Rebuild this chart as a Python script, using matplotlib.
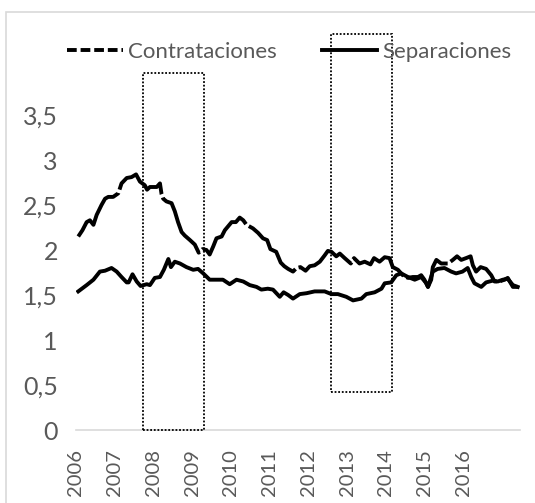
import matplotlib
matplotlib.use("Agg")
import matplotlib.pyplot as plt
from matplotlib.lines import Line2D
from matplotlib.patches import Rectangle

plt.rcParams['font.family'] = ['Lato', 'DejaVu Sans']

# months since Jan 2006
contr_m = [0.7, 2.0, 3.3, 4.3, 5.4, 6.4, 7.9, 9.0, 10.0, 11.5, 13.1, 14.1, 15.7, 17.2, 18.6, 19.8,
           21.3, 22.0, 22.9, 25.0, 26.0, 26.5, 27.0, 28.0, 29.6, 30.6, 31.6, 32.7, 33.7, 35.3, 36.8,
           38.0, 39.2, 40.4, 41.4, 42.5, 43.5, 45.1, 46.1, 48.2, 49.5, 50.7, 51.8, 52.8, 54.8, 56.4,
           57.9, 59.2, 60.2, 62.0, 63.4, 64.5, 65.7, 67.2, 68.3, 69.5, 71.1, 72.4, 73.9, 75.5, 77.0,
           78.0, 79.1, 80.6, 81.7, 83.2, 85.1, 86.1, 87.8, 89.4, 91.2, 92.3, 94.0, 95.6, 97.1, 98.1,
           99.7, 101.2, 102.8, 104.3, 105.9, 106.9, 107.9, 109.0, 110.0, 110.5, 111.6, 113.1, 115.2,
           116.7, 118.0, 119.3, 120.8, 122.2, 122.9, 123.9, 125.3, 127.0, 128.6, 129.6, 131.1, 132.7,
           133.7, 135.3, 136.8]
contr_v = [2.15, 2.22, 2.31, 2.33, 2.28, 2.39, 2.50, 2.57, 2.59, 2.59, 2.63, 2.74, 2.80, 2.81, 2.84, 2.76,
           2.72, 2.67, 2.70, 2.70, 2.74, 2.62, 2.57, 2.54, 2.52, 2.43, 2.31, 2.20, 2.16, 2.11, 2.06,
           1.97, 2.01, 2.00, 1.95, 2.04, 2.13, 2.15, 2.22, 2.31, 2.31, 2.36, 2.33, 2.28, 2.24, 2.19,
           2.13, 2.11, 2.01, 1.98, 1.86, 1.82, 1.79, 1.76, 1.80, 1.81, 1.77, 1.82, 1.83, 1.87, 1.94,
           1.99, 1.98, 1.93, 1.96, 1.91, 1.85, 1.91, 1.85, 1.87, 1.84, 1.91, 1.87, 1.92, 1.91, 1.81,
           1.78, 1.72, 1.69, 1.70, 1.70, 1.72, 1.67, 1.59, 1.67, 1.81, 1.89, 1.85, 1.85,
           1.89, 1.93, 1.89, 1.91, 1.93, 1.83, 1.76, 1.81, 1.79, 1.72, 1.65, 1.65, 1.67,
           1.69, 1.59, 1.59]

sep_m = [0.7, 3.3, 5.4, 7.4, 9.0, 11.0, 12.6, 14.1, 15.7, 16.3, 17.5, 18.8, 20.0, 21.9, 22.9, 24.4,
         26.0, 27.2, 28.6, 29.4, 30.6, 32.2, 34.2, 36.3, 37.8, 39.4, 41.4, 43.5, 45.5, 47.6, 49.7,
         51.8, 53.8, 55.9, 57.4, 59.4, 61.0, 63.1, 64.3, 65.7, 67.2, 69.3, 71.4, 73.9, 77.0, 79.1,
         81.1, 83.7, 85.8, 88.4, 89.9, 92.5, 94.6, 95.6, 97.6, 99.2, 100.7, 102.8, 104.9, 106.9,
         108.5, 109.0, 110.5, 112.0, 114.1, 116.2, 117.7, 119.7, 121.3, 122.4, 123.4, 125.5, 127.0,
         129.1, 130.6, 132.2, 133.7, 135.3, 136.8]
sep_v = [1.54, 1.61, 1.67, 1.76, 1.77, 1.80, 1.76, 1.70, 1.64, 1.64, 1.73, 1.65, 1.60, 1.62, 1.61, 1.69,
         1.70, 1.78, 1.90, 1.81, 1.87, 1.85, 1.81, 1.78, 1.79, 1.74, 1.67, 1.67, 1.67, 1.62, 1.67,
         1.65, 1.61, 1.59, 1.56, 1.57, 1.56, 1.48, 1.53, 1.50, 1.46, 1.51, 1.52, 1.54, 1.54, 1.51,
         1.51, 1.48, 1.44, 1.46, 1.51, 1.53, 1.57, 1.63, 1.64, 1.72, 1.74, 1.70, 1.67, 1.70,
         1.63, 1.59, 1.76, 1.79, 1.80, 1.76, 1.74, 1.76, 1.80, 1.70, 1.63, 1.59, 1.64,
         1.66, 1.65, 1.67, 1.68, 1.61, 1.59]

year_labels = ['2006', '2007', '2008', '2009', '2010', '2011', '2012', '2013', '2014', '2015', '2016']
year_pos = [12 * i for i in range(len(year_labels))]
y_ticks = [0, 0.5, 1, 1.5, 2, 2.5, 3, 3.5]
y_labels = ['0', '0,5', '1', '1,5', '2', '2,5', '3', '3,5']

# highlighted periods (months, value range)
box1 = (20.6, 39.6, 0.0, 3.97)
box2 = (78.9, 97.9, 0.42, 4.4)

gray = '#595959'
fig = plt.figure(figsize=(5.35, 5.03), dpi=100)
ax = fig.add_axes([76 / 535, 1 - 430 / 503, 444 / 535, 315 / 503])

lw = 2.8
ax.plot(contr_m, contr_v, color='black', lw=lw, linestyle=(0, (18, 0.9)),
        solid_joinstyle='round', dash_joinstyle='round', dash_capstyle='butt')
ax.plot(sep_m, sep_v, color='black', lw=lw, solid_joinstyle='round')

ax.set_xlim(0, 137.5)
ax.set_ylim(0, 3.5)
ax.set_yticks(y_ticks)
ax.set_yticklabels(y_labels, fontsize=18, color=gray)
ax.set_xticks(year_pos)
ax.set_xticklabels(year_labels, rotation=90, fontsize=14.5, color=gray)
ax.tick_params(axis='y', length=0, pad=13)
ax.tick_params(axis='x', length=0, pad=14)
for s in ['top', 'right', 'left']:
    ax.spines[s].set_visible(False)
ax.spines['bottom'].set_color('#d9d9d9')
ax.spines['bottom'].set_linewidth(1.2)

for (x0, x1, y0, y1) in (box1, box2):
    ax.add_patch(Rectangle((x0, y0), x1 - x0, y1 - y0, fill=False, edgecolor='black',
                           linewidth=1.3, linestyle=(0, (1, 1)), clip_on=False, zorder=5))

handles = [Line2D([], [], color='black', lw=lw, linestyle=(0, (2.5, 1.0))),
           Line2D([], [], color='black', lw=lw)]
fig.legend(handles, ['Contrataciones', 'Separaciones'], loc='center',
           bbox_to_anchor=(289.5 / 535, 1 - 52 / 503), ncol=2, frameon=False,
           fontsize=16, handlelength=2.5, handletextpad=0.25, columnspacing=2.0,
           labelcolor=gray)

fig.patches.append(Rectangle((6 / 535, -0.05), 1.2, (503 - 12) / 503 + 0.05,
                             transform=fig.transFigure, fill=False,
                             edgecolor='#d9d9d9', linewidth=1.2))

fig.savefig('out.png', dpi=100)
